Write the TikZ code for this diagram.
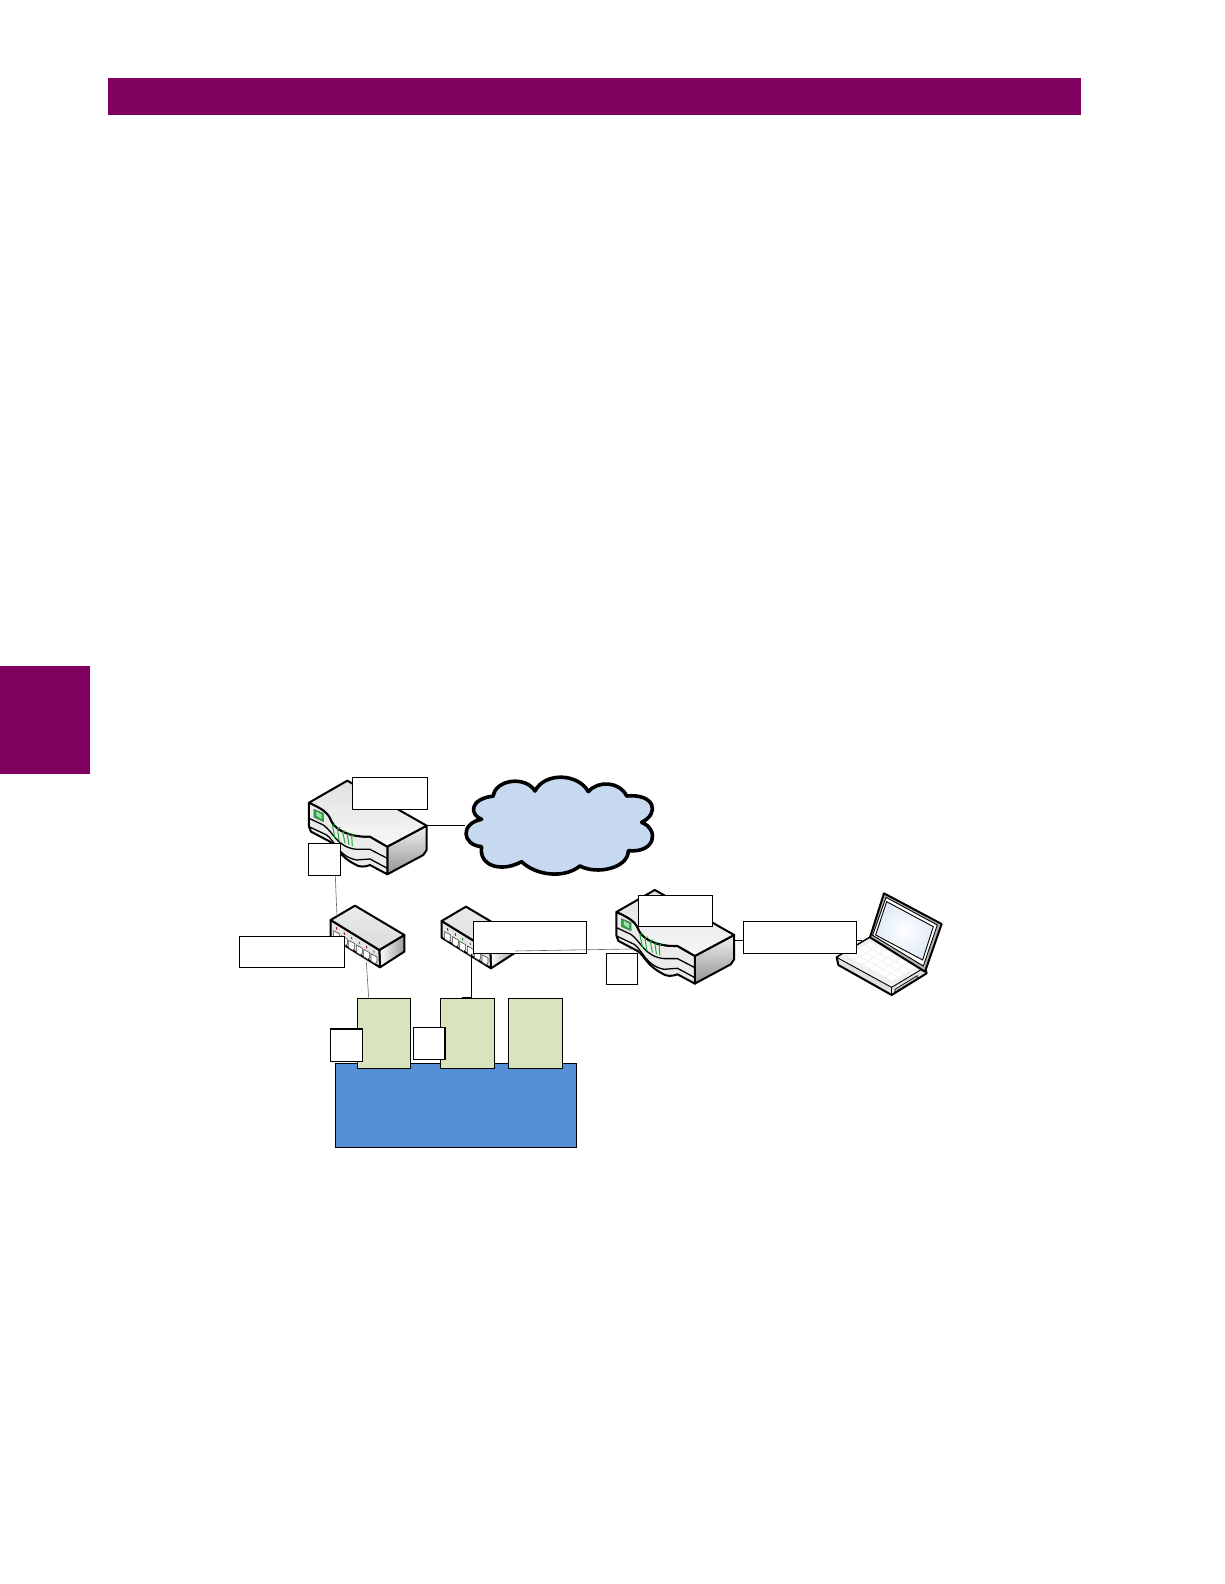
\documentclass[tikz,border=0pt]{standalone}
\definecolor{barplum}{HTML}{800060}
\definecolor{cloudblue}{HTML}{C6D9F1}
\definecolor{unitgreen}{HTML}{D7E4BD}
\definecolor{chassisblue}{HTML}{558ED5}
\definecolor{ledgreen}{HTML}{22A83A}
\tikzset{
  outline/.style={draw=black,line width=2bp,line join=round},
  stripe/.style={draw=black,line width=1.3bp},
  labelbox/.style={draw=black,fill=white,line width=.9bp,inner sep=0pt,anchor=north west},
  unitbox/.style={draw=black,fill=unitgreen,line width=.9bp,inner sep=0pt,anchor=north west},
  chassisbox/.style={draw=black,fill=chassisblue,line width=.9bp,inner sep=0pt,anchor=north west},
  blackwire/.style={draw=black,line width=1bp},
  graywire/.style={draw=black!60,line width=.6bp},
  pics/router/.style={code={
    \begin{scope}[x=.3333bp,y=-.3333bp]
      \path[outline,top color=black!6,bottom color=black!42]
        (472,260) -- (590,197) -- (590,270) -- (580,285) -- (472,343) -- cycle;
      \path[outline,fill=black!8]
        (237,128) -- (237,200) -- (243,215) -- (300,245)
        .. controls (325,262) and (325,290) .. (385,318)
        .. controls (400,322) and (412,318) .. (420,315)
        -- (472,343) -- (472,260) -- (420,230)
        .. controls (370,232) and (320,215) .. (305,185)
        .. controls (295,160) and (285,150) .. (237,128) -- cycle;
      \path[outline,top color=black!12,bottom color=black!3]
        (352,62) -- (237,128)
        .. controls (285,150) and (295,160) .. (305,185)
        .. controls (320,215) and (370,232) .. (420,230)
        -- (472,260) -- (590,197) -- cycle;
      \path[stripe] (237,175) -- (280,195)
        .. controls (310,215) and (320,262) .. (380,268) -- (420,268) -- (472,295);
      \path[stripe] (237,200) -- (290,225)
        .. controls (315,242) and (325,290) .. (380,300) -- (420,297) -- (472,325);
      \path[fill=ledgreen,draw=black!60,line width=.5bp] (252,148) -- (281,160) -- (281,185) -- (252,172) -- cycle;
      \path[fill=ledgreen!40] (259,155) -- (275,163) -- (275,177) -- (259,167) -- cycle;
      \foreach \a/\b/\c/\d in {307/195/315/235,322/205/328/245,338/215/345/250,352/222/357/255,365/225/367/258}{
        \draw[ledgreen,line width=1bp] (\a,\b) -- (\c,\d);
        \draw[ledgreen,line width=.8bp] (\a,\b+4) -- (\a+8,\b-3);
      }
      \coordinate (-east) at (590,197);
      \coordinate (-eastlow) at (590,215);
      \coordinate (-down) at (314,300);
      \coordinate (-front) at (286,239);
    \end{scope}
  }},
  pics/hubswitch/.style={code={
    \begin{scope}[x=.3333bp,y=-.3333bp]
      \path[outline,left color=white,right color=black!40]
        (448,570) -- (523,525) -- (523,575) -- (450,622) -- cycle;
      \path[outline,fill=black!10]
        (302,480) -- (302,530) -- (450,622) -- (448,570) -- cycle;
      \path[outline,top color=black!8,bottom color=black!14]
        (375,437) -- (302,480) -- (448,570) -- (523,525) -- cycle;
      \foreach \x/\y/\c in {320/522/red!60!black,343/537/red!60!black,365/551/green!50!black,388/565/black!60,410/578/red!60!black,432/591/black!60}{
        \draw[black!75,fill=white,line width=.6bp] (\x-9,\y-10) -- (\x+9,\y) -- (\x+9,\y+15) -- (\x+3,\y+20) -- (\x-9,\y+12) -- cycle;
        \draw[\c,line width=.9bp] (\x-1,\y-20) -- (\x+1,\y-13);
      }
      \coordinate (-top) at (321,470);
      \coordinate (-bottom) at (409,605);
      \coordinate (-east) at (523,570);
      \coordinate (-drop) at (392,600);
    \end{scope}
  }},
  pics/notebook/.style={code={
    \begin{scope}[x=.3333bp,y=-.3333bp]
      \path[outline,fill=black!12]
        (420,172) -- (320,232) -- (325,255) -- (485,345) -- (590,280) -- (585,262) -- cycle;
      \path[draw=black,line width=.9bp,fill=black!6]
        (420,172) -- (320,232) -- (485,322) -- (585,262) -- cycle;
      \path[draw=black,line width=.9bp] (485,322) -- (485,345);
      \path[draw=black,line width=.7bp,fill=black!20] (495,328) -- (562,287) -- (562,295) -- (495,336) -- cycle;
      \foreach \s in {0.08,0.22,0.36,0.50,0.64,0.78}{
        \foreach \t in {0.12,0.30,0.48,0.66}{
          \fill[white] ({420+\s*165-\t*100},{172+\s*90+\t*60})
            -- ({420+(\s+.12)*165-\t*100},{172+(\s+.12)*90+\t*60})
            -- ({420+(\s+.12)*165-(\t+.15)*100},{172+(\s+.12)*90+(\t+.15)*60})
            -- ({420+\s*165-(\t+.15)*100},{172+\s*90+(\t+.15)*60}) -- cycle;
        }
      }
      \path[outline,fill=black!30]
        (420,172) -- (462,40) -- (635,132) -- (585,275) -- cycle;
      \path[draw=black,line width=.9bp,fill=white]
        (428,166) -- (468,52) -- (622,135) -- (580,258) -- cycle;
      \path[draw=black,line width=.9bp,inner color=white,outer color=cloudblue!55]
        (437,165) -- (470,65) -- (610,140) -- (578,240) -- cycle;
      \coordinate (-west) at (395,186);
    \end{scope}
  }},
  pics/netcloud/.style={code={
    \begin{scope}[x=.3333bp,y=-.3333bp]
      \path[draw=black,line width=3.6bp,fill=cloudblue,line join=round]
        (95,178) .. controls (60,165) and (55,118) .. (130,108)
        .. controls (135,60) and (225,45) .. (255,93)
        .. controls (285,35) and (385,40) .. (415,95)
        .. controls (445,60) and (510,65) .. (530,108)
        .. controls (615,100) and (630,160) .. (575,187)
        .. controls (630,210) and (615,280) .. (535,272)
        .. controls (535,325) and (440,345) .. (390,318)
        .. controls (340,358) and (255,345) .. (215,305)
        .. controls (150,340) and (85,315) .. (95,260)
        .. controls (35,255) and (30,190) .. (95,178) -- cycle;
      \coordinate (-west) at (45,198);
    \end{scope}
  }}
}
\begin{document}
\begin{tikzpicture}[x=1bp,y=-1bp]
  \useasboundingbox (0,0) rectangle (1224,1584);
  \fill[white] (0,0) rectangle (1224,1584);
  \node[fill=barplum,inner sep=0pt,minimum width=973bp,minimum height=37bp,anchor=north west] (headerbar) at (108,78) {};
  \node[fill=barplum,inner sep=0pt,minimum width=90bp,minimum height=108bp,anchor=north west] (sidetab) at (0,666) {};

  \node[chassisbox,minimum width=240.4bp,minimum height=84bp] (chassis) at (335.3,1063.3) {};
  \node[unitbox,minimum width=52.4bp,minimum height=70bp] (unitA) at (357.3,998.3) {};
  \node[unitbox,minimum width=53.4bp,minimum height=70bp] (unitB) at (440.3,998.3) {};
  \node[unitbox,minimum width=53.4bp,minimum height=70bp] (unitC) at (508.3,998.3) {};
  \coordinate (unitAin) at (368.7,998.3);

  \pic (cloud) at (450,760) {netcloud};
  \pic (routerA) at (230,760) {router};
  \pic (routerB) at (537.5,869.3) {router};
  \pic (switchA) at (230,760) {hubswitch};
  \pic (switchB) at (341,761) {hubswitch};
  \pic (laptop) at (730,880) {notebook};

  \draw[blackwire] (routerA-east) -- (routerA-east -| cloud-west);
  \draw[blackwire] (routerB-eastlow) -- (routerB-eastlow -| laptop-west);
  \draw[graywire] (routerA-down) -- (switchA-top);
  \draw[graywire] (switchA-bottom) -- (unitAin);

  \node[labelbox,minimum width=74.4bp,minimum height=32bp] (lblRouterA) at (352.3,777.3) {};
  \node[labelbox,minimum width=31.4bp,minimum height=31.4bp] (lblPortA) at (308.3,843.3) {};
  \node[labelbox,minimum width=104.4bp,minimum height=31bp] (lblSwitchA) at (239.3,936.3) {};
  \node[labelbox,minimum width=112.4bp,minimum height=32bp] (lblSwitchB) at (473.3,921.3) {};
  \node[labelbox,minimum width=73.4bp,minimum height=31bp] (lblRouterB) at (638.3,895.3) {};
  \node[labelbox,minimum width=30.4bp,minimum height=31.6bp] (lblPortB) at (606.3,952.7) {};
  \node[labelbox,minimum width=112.4bp,minimum height=32bp] (lblLaptop) at (743.3,921.3) {};
  \node[labelbox,minimum width=31.4bp,minimum height=32bp] (lblUnitA) at (330.3,1028.7) {};
  \node[labelbox,minimum width=30.7bp,minimum height=32bp] (lblUnitB) at (413.3,1027.3) {};

  \draw[graywire] (switchB-east) -- (routerB-front);
  \draw[blackwire] (lblSwitchB.south west -| switchB-drop) -- (switchB-drop |- unitB.north);
  \draw[line width=1.4bp] ([xshift=-10bp,yshift=.6bp]switchB-drop |- unitB.north) -- ([yshift=.6bp]switchB-drop |- unitB.north);
  \draw[line width=1.5bp] ([yshift=.2bp]lblUnitA.north west) -- ([yshift=.2bp]lblUnitA.north east);
  \draw[line width=1.5bp] (lblUnitB.north east) -- (lblUnitB.south east);
\end{tikzpicture}
\end{document}
